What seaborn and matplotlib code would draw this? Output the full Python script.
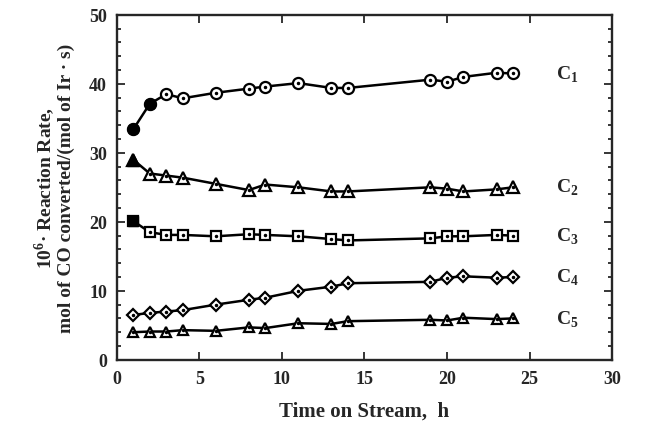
import matplotlib
matplotlib.use("Agg")
import matplotlib.pyplot as plt
import seaborn as sns
import pandas as pd
from matplotlib.ticker import MultipleLocator

# ---- data ----
time_h = [1, 2, 3, 4, 6, 8, 9, 11, 13, 14, 19, 20, 21, 23, 24]
c1 = [33.4, 37.1, 38.5, 37.9, 38.7, 39.3, 39.6, 40.1, 39.4, 39.4, 40.6, 40.3, 41.0, 41.6, 41.5]
c2 = [29.0, 27.0, 26.7, 26.4, 25.5, 24.6, 25.4, 25.0, 24.4, 24.4, 25.0, 24.8, 24.4, 24.7, 25.0]
c3 = [20.1, 18.5, 18.1, 18.1, 17.9, 18.2, 18.1, 17.9, 17.5, 17.3, 17.6, 17.9, 17.9, 18.1, 18.0]
c4 = [6.5, 6.8, 7.0, 7.2, 8.0, 8.7, 9.0, 10.0, 10.6, 11.1, 11.3, 11.9, 12.1, 11.9, 12.0]
c5 = [4.0, 4.1, 4.1, 4.3, 4.2, 4.7, 4.6, 5.3, 5.2, 5.6, 5.8, 5.7, 6.1, 5.9, 6.0]
series_names = ["C$_1$", "C$_2$", "C$_3$", "C$_4$", "C$_5$"]
markers = ["o", "^", "s", "D", "^"]
marker_sizes = [8, 8, 7.5, 6, 6.5]
n_filled = [2, 1, 1, 0, 0]

sns.set_style("ticks")
plt.rcParams['font.family'] = ['Liberation Serif', 'DejaVu Serif']
plt.rcParams['mathtext.fontset'] = 'custom'
plt.rcParams['mathtext.rm'] = 'Liberation Serif:bold'
plt.rcParams['mathtext.bf'] = 'Liberation Serif:bold'

fig = plt.figure(figsize=(6.45, 4.27), dpi=100)
ax = fig.add_axes([0.181, 0.155, 0.768, 0.808])

all_series = [c1, c2, c3, c4, c5]
rows = []
for name, vals in zip(series_names, all_series):
    for t, v in zip(time_h, vals):
        rows.append({"time": t, "rate": v, "series": name})
df = pd.DataFrame(rows)

for name, mk, ms, nf in zip(series_names, markers, marker_sizes, n_filled):
    sub = df[df["series"] == name]
    sns.lineplot(data=sub, x="time", y="rate", ax=ax, color="black", lw=1.8,
                 marker=mk, markersize=ms, markerfacecolor="white",
                 markeredgecolor="black", markeredgewidth=1.6, legend=False)
    # small dot in marker centres
    ax.plot(sub["time"], sub["rate"], ls="none", marker=".", ms=3, color="black")
    if nf:
        head = sub.iloc[:nf]
        ax.plot(head["time"], head["rate"], ls="none", marker=mk, ms=ms,
                color="black")
    last = sub.iloc[-1]
    ax.text(26.6, last["rate"], name, fontsize=14, fontweight="bold",
            va="center", ha="left")

ax.set_xlim(0, 30)
ax.set_ylim(0, 50)
ax.xaxis.set_major_locator(MultipleLocator(5))
ax.yaxis.set_major_locator(MultipleLocator(10))
ax.yaxis.set_minor_locator(MultipleLocator(2))
ax.tick_params(axis="both", which="both", direction="in", top=True, right=True,
               width=1.3)
ax.tick_params(axis="both", which="major", length=6, labelsize=13, pad=7)
ax.tick_params(axis="y", which="minor", length=3)
for lab in ax.get_xticklabels() + ax.get_yticklabels():
    lab.set_fontweight("bold")
for sp in ax.spines.values():
    sp.set_linewidth(1.7)

ax.set_xlabel("Time on Stream,  h", fontsize=15, fontweight="bold", labelpad=10)
ax.set_ylabel("10$^{6}$· Reaction Rate,\nmol of CO converted/(mol of Ir · s)",
              fontsize=14, fontweight="bold", labelpad=10, linespacing=1.0)

fig.savefig("out.png", dpi=100)
